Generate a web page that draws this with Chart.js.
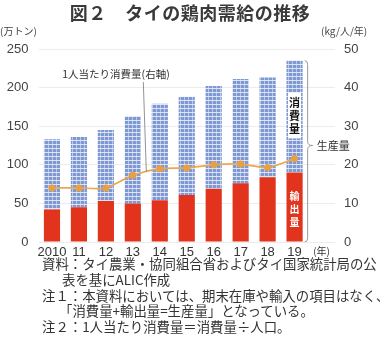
<!DOCTYPE html>
<html>
<head>
<meta charset="utf-8">
<script src="https://cdn.jsdelivr.net/npm/chart.js@4"></script>
<style>
  body { margin: 0; width: 380px; height: 353px; background: #fff; position: relative; overflow: hidden;
         font-family: "Noto Sans CJK JP", sans-serif; color: #333; }
  #title { position: absolute; top: 0; left: 0; width: 380px; text-align: center; font-size: 18px;
           font-weight: bold; line-height: 24px; color: #3a3a3a; letter-spacing: 0.5px; }
  .unit { position: absolute; top: 24px; font-size: 10px; line-height: 14px; color: #444; }
  #chartBox { position: absolute; top: 0; left: 0; width: 380px; height: 262px; }
  #notes { position: absolute; top: 256px; left: 0; font-size: 13.4px; line-height: 15.8px; color: #333;
           white-space: nowrap; }
  #notes div { height: 15.8px; }
</style>
</head>
<body>
<div id="chartBox"><canvas id="chart"></canvas></div>
<div id="title">図２　タイの鶏肉需給の推移</div>
<div class="unit" style="left:0">(万トン)</div>
<div class="unit" style="left:321px">(kg/人/年)</div>
<div id="notes">
  <div style="padding-left:42px">資料：タイ農業・協同組合省およびタイ国家統計局の公</div>
  <div style="padding-left:62px">表を基にALIC作成</div>
  <div style="padding-left:42px">注１：本資料においては、期末在庫や輸入の項目はなく、</div>
  <div style="padding-left:59px">「消費量+輸出量=生産量」となっている。</div>
  <div style="padding-left:42px">注２：1人当たり消費量＝消費量÷人口。</div>
</div>
<script>
const years = ["2010", "11", "12", "13", "14", "15", "16", "17", "18", "19", "(年)"];
// 万トン
const exportVol = [42, 45, 53, 50, 54, 61, 69, 76, 84, 90];
const consumption = [91, 91, 92, 113, 125, 127, 133, 135, 129, 145];
// kg/人/年
const perCapita = [14.0, 14.0, 14.0, 17.3, 19.0, 19.2, 20.0, 20.2, 19.3, 21.6];
const leftTicks = [0, 50, 100, 150, 200, 250];
const rightTicks = [0, 10, 20, 30, 40, 50];

const numFont = { family: "Liberation Sans", size: 13 };

function makePlaid() {
  const c = document.createElement("canvas");
  c.width = 4;
  c.height = 4;
  const g = c.getContext("2d");
  g.fillStyle = "#7d98d3";
  g.fillRect(0, 0, 4, 4);
  g.fillStyle = "rgba(235,240,250,0.85)";
  g.fillRect(0, 0, 4, 1);
  g.fillStyle = "rgba(235,240,250,0.55)";
  g.fillRect(0, 0, 1, 4);
  return document.getElementById("chart").getContext("2d").createPattern(c, "repeat");
}

const annotations = {
  id: "annotations",
  afterDatasetsDraw(chart) {
    const ctx = chart.ctx;
    const yL = chart.scales.y;
    const barMeta = chart.getDatasetMeta(1);
    const lineMeta = chart.getDatasetMeta(2);
    const last = barMeta.data[9];
    ctx.save();

    // leader to the per-capita line
    const p3 = lineMeta.data[3], p4 = lineMeta.data[4];
    const tx = p3.x + (p4.x - p3.x) * 0.5;
    const ty = p3.y + (p4.y - p3.y) * 0.5;
    ctx.strokeStyle = "#777";
    ctx.lineWidth = 0.8;
    ctx.beginPath();
    ctx.moveTo(tx - 3, 82);
    ctx.lineTo(tx, ty);
    ctx.stroke();
    ctx.fillStyle = "#333";
    ctx.font = "10.5px 'Noto Sans CJK JP'";
    ctx.textAlign = "center";
    ctx.textBaseline = "middle";
    ctx.fillText("1人当たり消費量(右軸)", 116, 74);

    // 消費量 label box
    const cx = last.x;
    const cy = yL.getPixelForValue(164);
    ctx.fillStyle = "#fff";
    ctx.fillRect(cx - 6.5, cy - 23, 13, 46);
    ctx.fillStyle = "#111";
    ctx.font = "bold 11px 'Noto Sans CJK JP'";
    ["消", "費", "量"].forEach((ch, i) => ctx.fillText(ch, cx, cy - 13 + i * 13));

    // 輸出量 label
    const ey = yL.getPixelForValue(43);
    ctx.fillStyle = "#fff";
    ctx.font = "bold 10px 'Noto Sans CJK JP'";
    ["輸", "出", "量"].forEach((ch, i) => ctx.fillText(ch, cx, ey - 13 + i * 13));

    // brace for 生産量
    const bx = last.x + last.width / 2 + 5;
    const top = last.y;
    const bot = yL.getPixelForValue(0);
    const mid = yL.getPixelForValue(125);
    ctx.strokeStyle = "#999";
    ctx.lineWidth = 1;
    ctx.beginPath();
    ctx.moveTo(bx - 3, top);
    ctx.quadraticCurveTo(bx, top, bx, top + 4);
    ctx.lineTo(bx, mid - 4);
    ctx.quadraticCurveTo(bx, mid, bx + 5, mid);
    ctx.quadraticCurveTo(bx, mid, bx, mid + 4);
    ctx.lineTo(bx, bot - 4);
    ctx.quadraticCurveTo(bx, bot, bx - 3, bot);
    ctx.stroke();
    ctx.fillStyle = "#333";
    ctx.font = "11px 'Noto Sans CJK JP'";
    ctx.textAlign = "left";
    ctx.fillText("生産量", bx + 9, mid);
    ctx.restore();
  }
};

const plaid = makePlaid();

new Chart(document.getElementById("chart"), {
  data: {
    labels: years,
    datasets: [
      {
        type: "bar",
        label: "輸出量",
        data: exportVol,
        backgroundColor: "#e2341d",
        stack: "s",
        yAxisID: "y",
        barPercentage: 0.6,
        categoryPercentage: 1,
        order: 2,
      },
      {
        type: "bar",
        label: "消費量",
        data: consumption,
        backgroundColor: plaid,
        stack: "s",
        yAxisID: "y",
        barPercentage: 0.6,
        categoryPercentage: 1,
        order: 2,
      },
      {
        type: "line",
        label: "1人当たり消費量",
        data: perCapita,
        yAxisID: "y2",
        borderColor: "#eaa84c",
        backgroundColor: "#e9a040",
        borderWidth: 1.7,
        pointRadius: 3.5,
        pointBorderWidth: 0,
        tension: 0.25,
        order: 1,
      },
    ],
  },
  options: {
    responsive: true,
    maintainAspectRatio: false,
    animation: false,
    layout: { padding: { top: 49, bottom: 0, left: 0, right: 0 } },
    plugins: { legend: { display: false }, tooltip: { enabled: false } },
    scales: {
      x: {
        stacked: true,
        grid: { display: false, drawTicks: false },
        border: { display: false },
        ticks: {
          color: "#333",
          padding: 3,
          maxRotation: 0,
          autoSkip: false,
          font: (c) => (c.index === 10 ? { family: "Noto Sans CJK JP", size: 10 } : numFont),
        },
        afterFit: (s) => { s.height = 20; },
      },
      y: {
        stacked: true,
        position: "left",
        min: 0,
        max: 250,
        afterBuildTicks: (s) => { s.ticks = leftTicks.map((v) => ({ value: v })); },
        grid: { color: "#ececec", drawTicks: false },
        border: { display: false },
        ticks: { color: "#444", padding: 10, font: numFont },
        afterFit: (s) => { s.width = 38.5; },
      },
      y2: {
        position: "right",
        min: 0,
        max: 50,
        afterBuildTicks: (s) => { s.ticks = rightTicks.map((v) => ({ value: v })); },
        grid: { display: false, drawTicks: false },
        border: { display: false },
        ticks: { color: "#444", padding: 9, font: numFont },
        afterFit: (s) => { s.width = 45; },
      },
    },
  },
  plugins: [annotations],
});
</script>
</body>
</html>
